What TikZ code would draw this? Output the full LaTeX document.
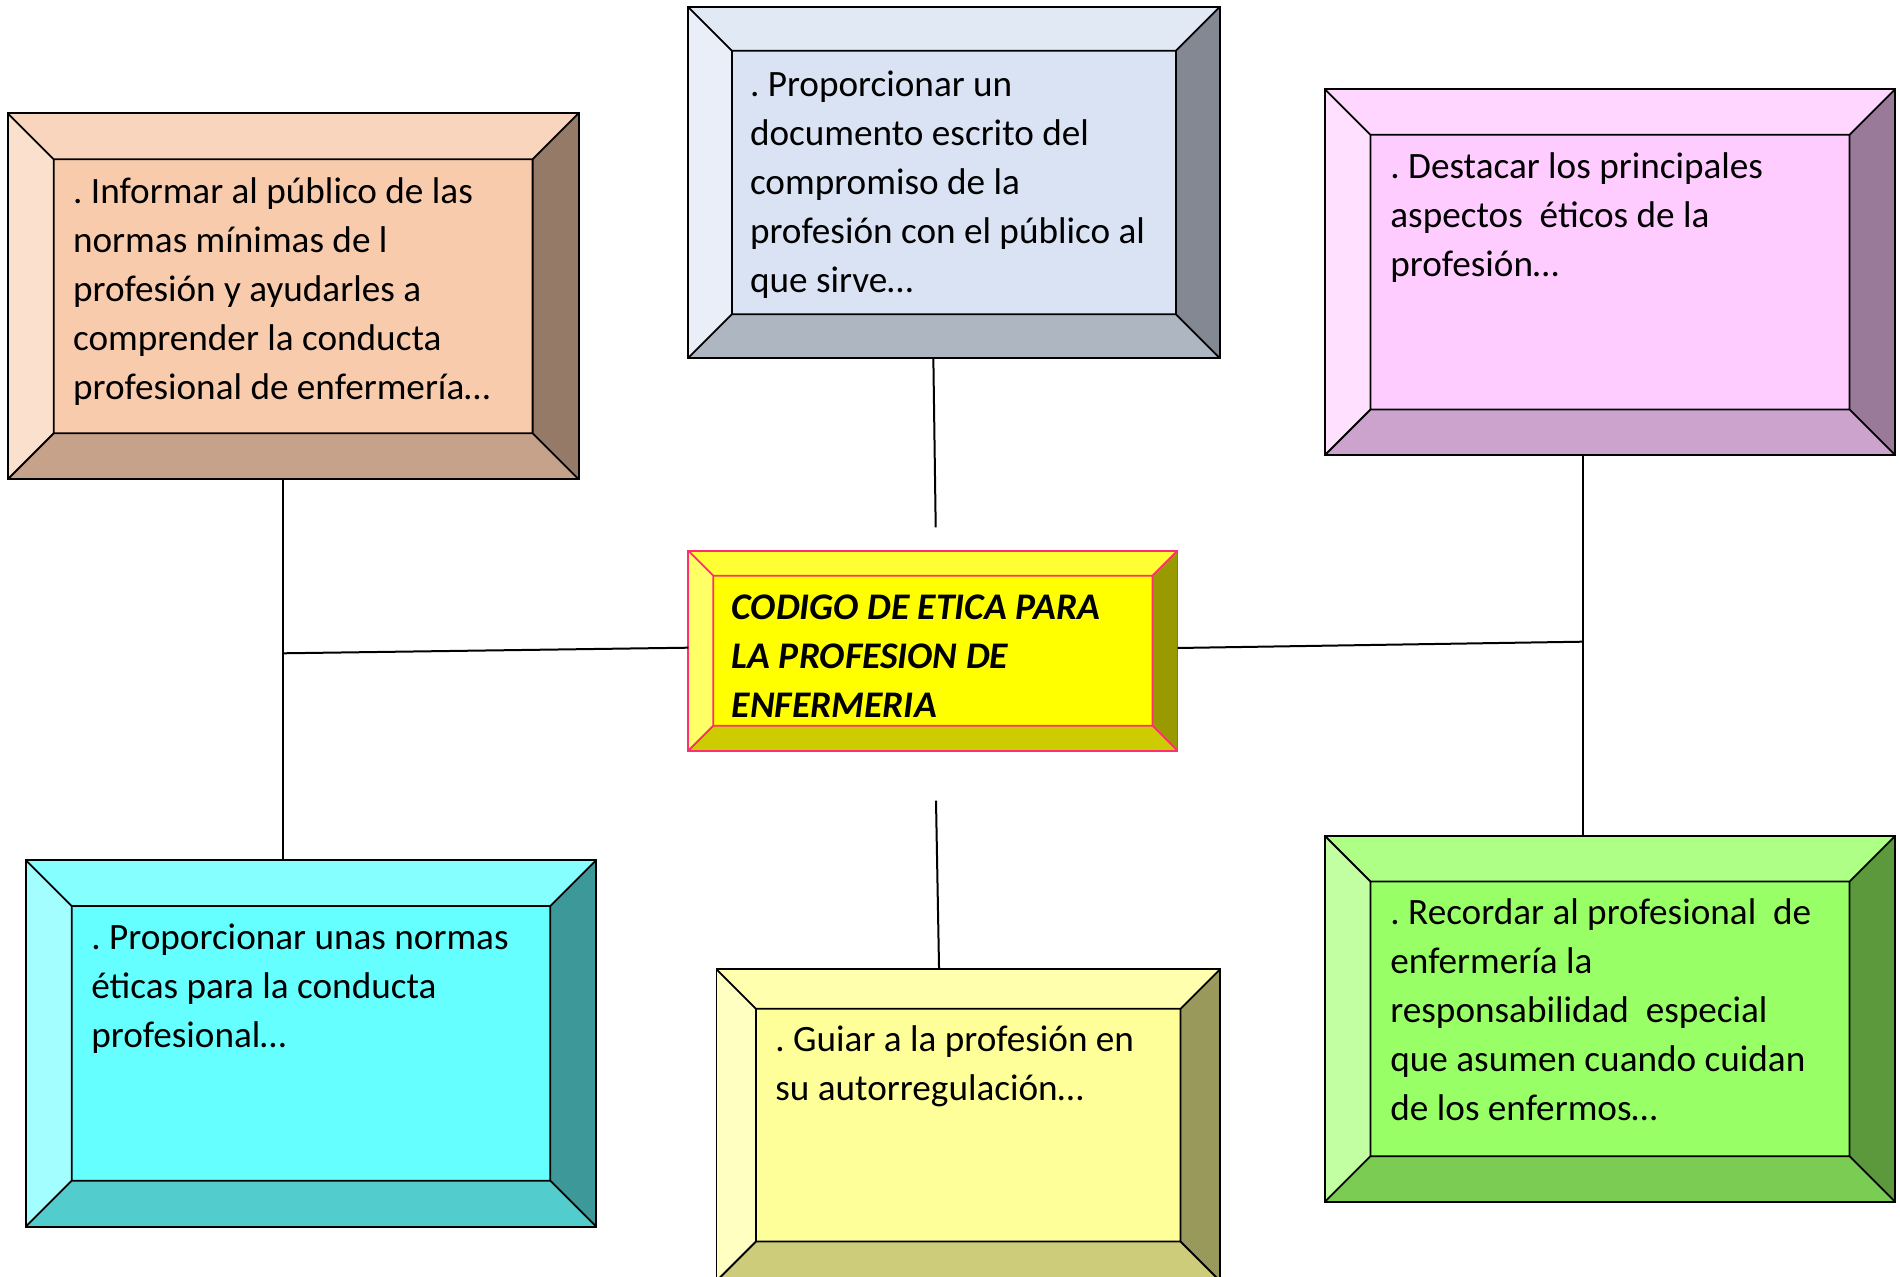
\documentclass[tikz,border=0pt]{standalone}
\usepackage{fontspec}
\setmainfont{Carlito}
\frenchspacing
\usetikzlibrary{fit}
\usetikzlibrary{positioning}
\definecolor{peachface}{HTML}{F8CBAD}
\definecolor{blueface}{HTML}{DAE3F3}
\definecolor{pinkface}{HTML}{FFCCFF}
\definecolor{yellowface}{HTML}{FFFF00}
\definecolor{cyanface}{HTML}{66FFFF}
\definecolor{lemonface}{HTML}{FFFF99}
\definecolor{greenface}{HTML}{99FF66}
\definecolor{codeline}{HTML}{FF2F6F}
\tikzset{
  bevel size/.store in = \bevelsize,
  bevel size = 23pt,
  % framed box with four shaded bevels
  bevelbox/.style 2 args = {
    draw = #2,
    fill = #1,
    line width = 0.9pt,
    inner sep = 0pt,
    outer sep = 0pt,
    path picture = {
      \coordinate (nw) at (path picture bounding box.north west);
      \coordinate (ne) at (path picture bounding box.north east);
      \coordinate (sw) at (path picture bounding box.south west);
      \coordinate (se) at (path picture bounding box.south east);
      \coordinate (inw) at ([shift={(\bevelsize,-\bevelsize)}]nw);
      \coordinate (ine) at ([shift={(-\bevelsize,-\bevelsize)}]ne);
      \coordinate (isw) at ([shift={(\bevelsize,\bevelsize)}]sw);
      \coordinate (ise) at ([shift={(-\bevelsize,\bevelsize)}]se);
      \path[fill = #1!80!white] (nw) -- (ne) -- (ine) -- (inw) -- cycle;
      \path[fill = #1!60!white] (nw) -- (inw) -- (isw) -- (sw) -- cycle;
      \path[fill = #1!60!black] (ne) -- (ine) -- (ise) -- (se) -- cycle;
      \path[fill = #1!80!black] (sw) -- (isw) -- (ise) -- (se) -- cycle;
      \draw[#2, line width = 0.9pt] (inw) rectangle (ise)
        (nw) -- (inw) (ne) -- (ine) (sw) -- (isw) (se) -- (ise);
    }
  },
  % text inside a box
  aim/.style = {
    anchor = north west,
    inner sep = 0pt,
    align = left,
    font = \fontsize{18.6}{24.5}\selectfont
  },
  % title of the central box
  title/.style = {
    aim,
    font = \fontsize{18.8}{24.5}\selectfont\bfseries\itshape
  },
  link/.style = {
    draw = black,
    line width = 1pt
  }
}
\begin{document}
\begin{tikzpicture}[x=0.5pt, y=-0.5pt]
  \path[use as bounding box, clip] (0,0) rectangle (1900,1277);

  \node[bevelbox={peachface}{black}, bevel size=23pt,
    fit={(7.7,113.3) (578.6,479.3)}] (informar) {};
  \node[bevelbox={blueface}{black}, bevel size=22pt,
    fit={(687.9,6.7) (1220,358.3)}] (documento) {};
  \node[bevelbox={pinkface}{black}, bevel size=22.75pt,
    fit={(1325,89.3) (1895,455)}] (destacar) {};
  \node[bevelbox={yellowface}{codeline}, bevel size=12.5pt,
    fit={(688.3,550.7) (1177.5,750.7)}] (codigo) {};
  \node[bevelbox={cyanface}{black}, bevel size=23pt,
    fit={(25.7,860) (596.3,1226.7)}] (normas) {};
  \node[bevelbox={lemonface}{black}, bevel size=19.75pt,
    fit={(716.5,969.3) (1220,1281)}] (guiar) {};
  \node[bevelbox={greenface}{black}, bevel size=22.75pt,
    fit={(1325,836) (1895,1201.7)}] (recordar) {};

  \node[aim] at (72.7,169) (informar-text) {\strut. Informar al público de las\\
    normas mínimas de l\\ profesión y ayudarles a\\ comprender la conducta\\
    profesional de enfermería…};
  \node[aim] at (749.6,61.5) (documento-text) {\strut. Proporcionar un\\
    documento escrito del\\ compromiso de la\\ profesión con el público al\\
    que sirve…};
  \node[aim] at (1390,144.2) (destacar-text) {\strut. Destacar los principales\\
    aspectos~ éticos de la\\ profesión…};
  \node[title] at (731.4,585.2) (codigo-text) {\strut CODIGO DE ETICA PARA\\
    LA PROFESION DE\\ ENFERMERIA};
  \node[aim] at (91,915.2) (normas-text) {\strut. Proporcionar unas normas\\
    éticas para la conducta\\ profesional…};
  \node[aim] at (775,1017.2) (guiar-text) {\strut. Guiar a la profesión en\\
    su autorregulación…};
  \node[aim] at (1390,890.2) (recordar-text) {\strut. Recordar al profesional~ de\\
    enfermería la\\ responsabilidad~ especial\\ que asumen cuando cuidan\\
    de los enfermos…};

  \coordinate (top-end) at (935.7,527.3);
  \coordinate (bottom-end) at (936,800.7);
  \coordinate (left-spine) at (283.3,653.3);
  \coordinate (right-spine) at (1582.7,641.7);

  \draw[link] ([xshift=-10.3pt]documento.south) -- (top-end);
  \draw[link] (bottom-end) -- ([xshift=-14.6pt]guiar.north);
  \draw[link] (informar.south -| left-spine) -- (normas.north -| left-spine);
  \draw[link] (left-spine) -- ([yshift=1.5pt]codigo.west);
  \draw[link] ([yshift=1.35pt]codigo.east) -- (right-spine);
  \draw[link] (destacar.south -| right-spine) -- (recordar.north -| right-spine);
\end{tikzpicture}
\end{document}
